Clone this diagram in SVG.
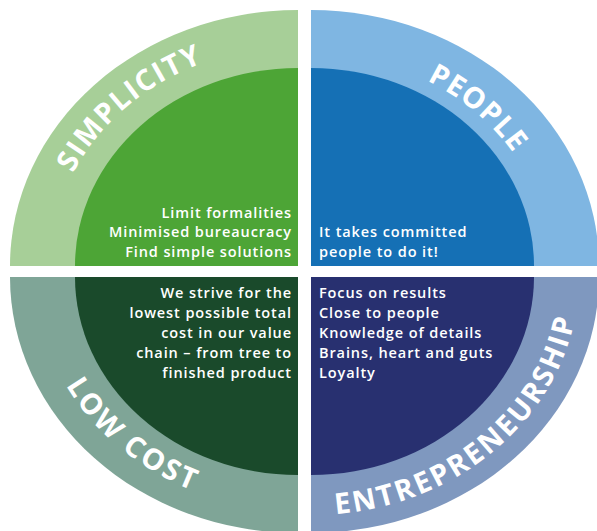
<svg xmlns="http://www.w3.org/2000/svg" width="597" height="531" viewBox="0 0 597 531">
<style>
.body{font-family:"Open Sans","Liberation Sans",sans-serif;font-weight:600;font-size:14.5px;letter-spacing:0.9px;fill:#ffffff}
.arc{font-family:"Open Sans","Liberation Sans",sans-serif;font-weight:700;font-size:29px;fill:#ffffff}
</style>
<defs>
<path id="pSimp" d="M 50 266 A 248 220 0 0 1 298 46"/>
<path id="pPeop" d="M 311 54 A 239 212 0 0 1 550 266"/>
<path id="pLow" d="M 36 277 A 262 233 0 0 0 298 510"/>
<path id="pEnt" d="M 311 515 A 268 238 0 0 0 579 277"/>
</defs>
<rect width="597" height="531" fill="#ffffff"/>
<g id="simplicity">
<path d="M 298 266 L 10 266 A 288 256 0 0 1 298 10 Z" fill="#a7cf98"/>
<path d="M 298 266 L 75 266 A 223 198 0 0 1 298 68 Z" fill="#4da536"/>
<text class="arc" letter-spacing="1.5"><textPath href="#pSimp" startOffset="50%" text-anchor="middle">SIMPLICITY</textPath></text>
<text class="body" text-anchor="end"><tspan x="292" y="217.5">Limit formalities</tspan><tspan x="292" y="237.3">Minimised bureaucracy</tspan><tspan x="292" y="257.1">Find simple solutions</tspan></text>
</g>
<g id="people">
<path d="M 311 266 L 311 10 A 288 256 0 0 1 599 266 Z" fill="#7fb6e2"/>
<path d="M 311 266 L 311 68 A 223 198 0 0 1 534 266 Z" fill="#1570b5"/>
<text class="arc" letter-spacing="1"><textPath href="#pPeop" startOffset="50%" text-anchor="middle">PEOPLE</textPath></text>
<text class="body"><tspan x="319" y="237.3">It takes committed</tspan><tspan x="319" y="257.1">people to do it!</tspan></text>
</g>
<g id="lowcost">
<path d="M 298 277 L 10 277 A 288 256 0 0 0 298 533 Z" fill="#7fa597"/>
<path d="M 298 277 L 75 277 A 223 198 0 0 0 298 475 Z" fill="#1a4a2b"/>
<text class="arc" letter-spacing="2.5"><textPath href="#pLow" startOffset="51%" text-anchor="middle">LOW COST</textPath></text>
<text class="body" text-anchor="end"><tspan x="292" y="298.4">We strive for the</tspan><tspan x="292" y="318.2">lowest possible total</tspan><tspan x="292" y="338">cost in our value</tspan><tspan x="292" y="357.8">chain – from tree to</tspan><tspan x="292" y="377.6">finished product</tspan></text>
</g>
<g id="entrepreneurship">
<path d="M 311 277 L 599 277 A 288 256 0 0 1 311 533 Z" fill="#7f98bf"/>
<path d="M 311 277 L 534 277 A 223 198 0 0 1 311 475 Z" fill="#283070"/>
<text class="arc" letter-spacing="2.5"><textPath href="#pEnt" startOffset="48%" text-anchor="middle">ENTREPRENEURSHIP</textPath></text>
<text class="body"><tspan x="319" y="298.4">Focus on results</tspan><tspan x="319" y="318.2">Close to people</tspan><tspan x="319" y="338">Knowledge of details</tspan><tspan x="319" y="357.8">Brains, heart and guts</tspan><tspan x="319" y="377.6">Loyalty</tspan></text>
</g>
<g id="connectors"/>
</svg>
